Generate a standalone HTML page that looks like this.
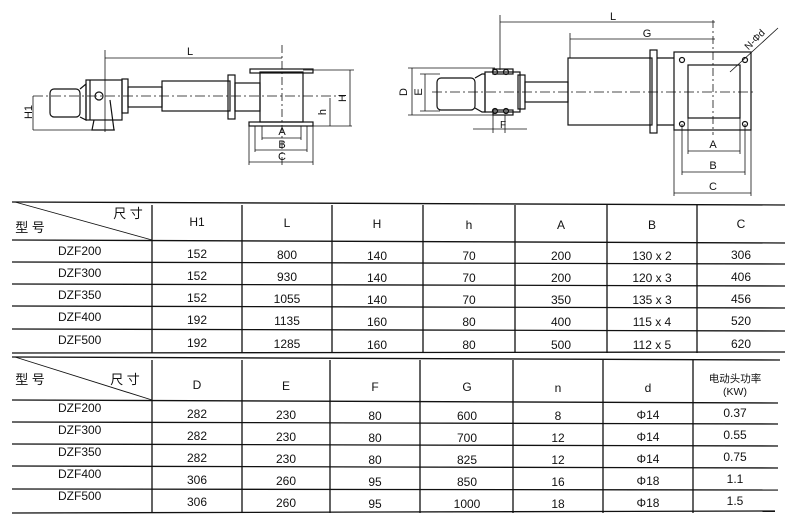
<!DOCTYPE html>
<html><head><meta charset="utf-8"><style>
html,body{margin:0;padding:0;background:#fff;}
svg{display:block;}
text{font-family:"Liberation Sans","Noto Sans CJK SC",sans-serif;fill:#111;}
</style></head><body>
<svg width="800" height="523" viewBox="0 0 800 523" xmlns="http://www.w3.org/2000/svg">
<g stroke="#111" fill="none" stroke-width="1.2">
<!-- LEFT DRAWING -->
<line x1="33" y1="96" x2="345" y2="96" stroke-dasharray="10,3,2,3" stroke-width="0.8"/>
<rect x="50" y="89" width="30" height="28" rx="4"/>
<path d="M80 89 L86 84 L86 120 L80 117"/>
<rect x="86" y="80" width="36" height="40"/>
<line x1="90" y1="80" x2="90" y2="120"/>
<path d="M94 120 L92 130 L114 130 L110 100"/>
<circle cx="99" cy="96" r="4"/>
<rect x="122" y="79" width="6" height="34"/>
<rect x="128" y="87" width="34" height="20"/>
<rect x="162" y="81" width="68" height="30"/>
<rect x="228" y="75" width="7" height="44"/>
<rect x="235" y="83" width="25" height="28"/>
<rect x="260" y="72" width="43" height="50"/>
<rect x="250" y="69" width="63" height="4"/>
<rect x="249" y="122" width="64" height="4"/>
<line x1="282" y1="45" x2="282" y2="165" stroke-dasharray="8,3,2,3" stroke-width="0.8"/>
<line x1="105" y1="50" x2="105" y2="132" stroke-width="0.8"/>
<line x1="105" y1="58" x2="282" y2="58" stroke-width="0.8"/>
<line x1="33" y1="96" x2="33" y2="130" stroke-width="0.8"/>
<line x1="33" y1="130" x2="115" y2="130" stroke-width="0.8"/>
<line x1="303" y1="70" x2="354" y2="70" stroke-width="0.8"/>
<line x1="313" y1="126" x2="352" y2="126" stroke-width="0.8"/>
<line x1="350" y1="70" x2="350" y2="126" stroke-width="0.8"/>
<line x1="330" y1="98" x2="330" y2="126" stroke-width="0.8"/>
<line x1="249" y1="126" x2="249" y2="165" stroke-width="0.8"/>
<line x1="313" y1="126" x2="313" y2="165" stroke-width="0.8"/>
<line x1="255" y1="126" x2="255" y2="152" stroke-width="0.8"/>
<line x1="307" y1="126" x2="307" y2="152" stroke-width="0.8"/>
<line x1="262" y1="126" x2="262" y2="140" stroke-width="0.8"/>
<line x1="301" y1="126" x2="301" y2="140" stroke-width="0.8"/>
<line x1="262" y1="138" x2="301" y2="138" stroke-width="0.8"/>
<line x1="255" y1="150" x2="307" y2="150" stroke-width="0.8"/>
<line x1="249" y1="162" x2="313" y2="162" stroke-width="0.8"/>

<!-- RIGHT DRAWING -->
<line x1="432" y1="92" x2="755" y2="92" stroke-dasharray="10,3,2,3" stroke-width="0.8"/>
<rect x="437" y="78" width="38" height="32" rx="4"/>
<path d="M475 78 L482 74 L485 74 L485 112 L482 112 L475 108"/>
<rect x="485" y="72" width="35" height="40"/>
<rect x="493" y="69" width="20" height="5"/>
<rect x="493" y="110" width="20" height="5"/>
<circle cx="495" cy="72" r="2.5"/><circle cx="506" cy="72" r="2.5"/>
<circle cx="495" cy="111" r="2.5"/><circle cx="506" cy="111" r="2.5"/>
<rect x="518" y="75" width="7" height="34"/>
<rect x="525" y="82" width="43" height="20"/>
<rect x="568" y="58" width="84" height="67"/>
<rect x="650" y="50" width="7" height="83"/>
<line x1="657" y1="58" x2="674" y2="58"/><line x1="657" y1="125" x2="674" y2="125"/>
<rect x="674" y="52" width="77" height="78"/>
<rect x="688" y="65" width="52" height="53"/>
<circle cx="682" cy="60" r="2.5"/><circle cx="745" cy="60" r="2.5"/>
<circle cx="682" cy="124" r="2.5"/><circle cx="745" cy="124" r="2.5"/>
<line x1="730" y1="72" x2="778" y2="28" stroke-width="0.8"/>
<line x1="713" y1="20" x2="713" y2="135" stroke-dasharray="8,3,2,3" stroke-width="0.8"/>
<line x1="500" y1="15" x2="500" y2="70" stroke-width="0.8"/>
<line x1="500" y1="22" x2="715" y2="22" stroke-width="0.8"/>
<line x1="570" y1="33" x2="570" y2="58" stroke-width="0.8"/>
<line x1="570" y1="39" x2="715" y2="39" stroke-width="0.8"/>
<line x1="408" y1="68" x2="495" y2="68" stroke-width="0.8"/>
<line x1="408" y1="115" x2="495" y2="115" stroke-width="0.8"/>
<line x1="412" y1="68" x2="412" y2="115" stroke-width="0.8"/>
<line x1="420" y1="74" x2="440" y2="74" stroke-width="0.8"/>
<line x1="420" y1="111" x2="440" y2="111" stroke-width="0.8"/>
<line x1="425" y1="74" x2="425" y2="111" stroke-width="0.8"/>
<line x1="493" y1="115" x2="493" y2="133" stroke-width="0.8"/>
<line x1="505" y1="115" x2="505" y2="133" stroke-width="0.8"/>
<line x1="473" y1="129" x2="527" y2="129" stroke-width="0.8"/>
<line x1="674" y1="130" x2="674" y2="196" stroke-width="0.8"/>
<line x1="751" y1="130" x2="751" y2="196" stroke-width="0.8"/>
<line x1="682" y1="124" x2="682" y2="175" stroke-width="0.8"/>
<line x1="745" y1="124" x2="745" y2="175" stroke-width="0.8"/>
<line x1="688" y1="118" x2="688" y2="154" stroke-width="0.8"/>
<line x1="740" y1="118" x2="740" y2="154" stroke-width="0.8"/>
<line x1="688" y1="151" x2="740" y2="151" stroke-width="0.8"/>
<line x1="682" y1="172" x2="745" y2="172" stroke-width="0.8"/>
<line x1="674" y1="193" x2="751" y2="193" stroke-width="0.8"/>

<!-- TABLE 1 -->
<g stroke-width="1.3">
<line x1="12" y1="202" x2="785" y2="205"/>
<line x1="12" y1="240" x2="785" y2="243"/>
<line x1="12" y1="262" x2="785" y2="264"/>
<line x1="12" y1="284" x2="785" y2="286"/>
<line x1="12" y1="306" x2="785" y2="308"/>
<line x1="12" y1="329" x2="785" y2="331"/>
<line x1="12" y1="353" x2="785" y2="352"/>
<line x1="15" y1="202" x2="152" y2="240" stroke-width="0.9"/>
<line x1="152" y1="205" x2="152" y2="353"/>
<line x1="242" y1="205" x2="242" y2="353"/>
<line x1="332" y1="205" x2="332" y2="353"/>
<line x1="423" y1="205" x2="423" y2="353"/>
<line x1="515" y1="205" x2="515" y2="353"/>
<line x1="607" y1="205" x2="607" y2="353"/>
<line x1="697" y1="205" x2="697" y2="353"/>
<!-- TABLE 2 -->
<line x1="12" y1="357" x2="780" y2="360"/>
<line x1="12" y1="400" x2="778" y2="403"/>
<line x1="12" y1="422" x2="778" y2="424"/>
<line x1="12" y1="444" x2="778" y2="446"/>
<line x1="12" y1="466" x2="778" y2="468"/>
<line x1="12" y1="489" x2="778" y2="490"/>
<line x1="12" y1="513" x2="775" y2="511"/>
<line x1="15" y1="357" x2="152" y2="400" stroke-width="0.9"/>
<line x1="152" y1="360" x2="152" y2="513"/>
<line x1="242" y1="360" x2="242" y2="513"/>
<line x1="330" y1="360" x2="330" y2="513"/>
<line x1="420" y1="360" x2="420" y2="513"/>
<line x1="513" y1="360" x2="513" y2="513"/>
<line x1="603" y1="360" x2="603" y2="513"/>
<line x1="693" y1="360" x2="693" y2="513"/>
</g>
</g>

<!-- drawing labels -->
<g font-size="11" text-anchor="middle">
<text x="190" y="55">L</text>
<text x="282" y="135">A</text><text x="282" y="148">B</text><text x="282" y="160">C</text>
<text x="613" y="20">L</text><text x="647" y="37">G</text>
<text x="713" y="148">A</text><text x="713" y="169">B</text><text x="713" y="190">C</text>
<text x="503" y="128" font-size="10">F</text>
<text transform="translate(32,112) rotate(-90)">H1</text>
<text transform="translate(346,98) rotate(-90)">H</text>
<text transform="translate(326,112) rotate(-90)">h</text>
<text transform="translate(407,92) rotate(-90)">D</text>
<text transform="translate(422,92) rotate(-90)">E</text>
<text transform="translate(757,42) rotate(-45)" font-size="10">N-Φd</text>
</g>

<!-- table text -->
<g font-size="12" text-anchor="middle">
<text x="30" y="232" font-size="13">型 号</text><text x="128" y="218" font-size="13">尺 寸</text>
<text x="197" y="226">H1</text><text x="287" y="227">L</text><text x="377" y="228">H</text><text x="469" y="229">h</text><text x="561" y="229">A</text><text x="652" y="229">B</text><text x="741" y="228">C</text>
<g text-anchor="start"><text x="58" y="255">DZF200</text><text x="58" y="277">DZF300</text><text x="58" y="299">DZF350</text><text x="58" y="321">DZF400</text><text x="58" y="344">DZF500</text></g>
<text x="197" y="258">152</text><text x="287" y="259">800</text><text x="377" y="260">140</text><text x="469" y="260">70</text><text x="561" y="260">200</text><text x="652" y="260">130 x 2</text><text x="741" y="259">306</text>
<text x="197" y="280">152</text><text x="287" y="281">930</text><text x="377" y="282">140</text><text x="469" y="282">70</text><text x="561" y="282">200</text><text x="652" y="282">120 x 3</text><text x="741" y="281">406</text>
<text x="197" y="302">152</text><text x="287" y="303">1055</text><text x="377" y="304">140</text><text x="469" y="304">70</text><text x="561" y="304">350</text><text x="652" y="304">135 x 3</text><text x="741" y="303">456</text>
<text x="197" y="324">192</text><text x="287" y="325">1135</text><text x="377" y="326">160</text><text x="469" y="326">80</text><text x="561" y="326">400</text><text x="652" y="326">115 x 4</text><text x="741" y="325">520</text>
<text x="197" y="347">192</text><text x="287" y="348">1285</text><text x="377" y="349">160</text><text x="469" y="349">80</text><text x="561" y="349">500</text><text x="652" y="349">112 x 5</text><text x="741" y="348">620</text>

<text x="30" y="384" font-size="13">型 号</text><text x="125" y="384" font-size="13">尺 寸</text>
<text x="197" y="389">D</text><text x="286" y="390">E</text><text x="375" y="391">F</text><text x="467" y="391">G</text><text x="558" y="392">n</text><text x="648" y="392">d</text>
<text x="735" y="382" font-size="10.5">电动头功率</text><text x="735" y="395" font-size="10.5">(KW)</text>
<g text-anchor="start"><text x="58" y="412">DZF200</text><text x="58" y="434">DZF300</text><text x="58" y="456">DZF350</text><text x="58" y="478">DZF400</text><text x="58" y="500">DZF500</text></g>
<text x="197" y="418">282</text><text x="286" y="419">230</text><text x="375" y="420">80</text><text x="467" y="420">600</text><text x="558" y="420">8</text><text x="648" y="419">Φ14</text><text x="735" y="417">0.37</text>
<text x="197" y="440">282</text><text x="286" y="441">230</text><text x="375" y="442">80</text><text x="467" y="442">700</text><text x="558" y="442">12</text><text x="648" y="441">Φ14</text><text x="735" y="439">0.55</text>
<text x="197" y="462">282</text><text x="286" y="463">230</text><text x="375" y="464">80</text><text x="467" y="464">825</text><text x="558" y="464">12</text><text x="648" y="463">Φ14</text><text x="735" y="461">0.75</text>
<text x="197" y="484">306</text><text x="286" y="485">260</text><text x="375" y="486">95</text><text x="467" y="486">850</text><text x="558" y="486">16</text><text x="648" y="485">Φ18</text><text x="735" y="483">1.1</text>
<text x="197" y="506">306</text><text x="286" y="507">260</text><text x="375" y="508">95</text><text x="467" y="508">1000</text><text x="558" y="508">18</text><text x="648" y="507">Φ18</text><text x="735" y="505">1.5</text>
</g>
</svg>
</body></html>
